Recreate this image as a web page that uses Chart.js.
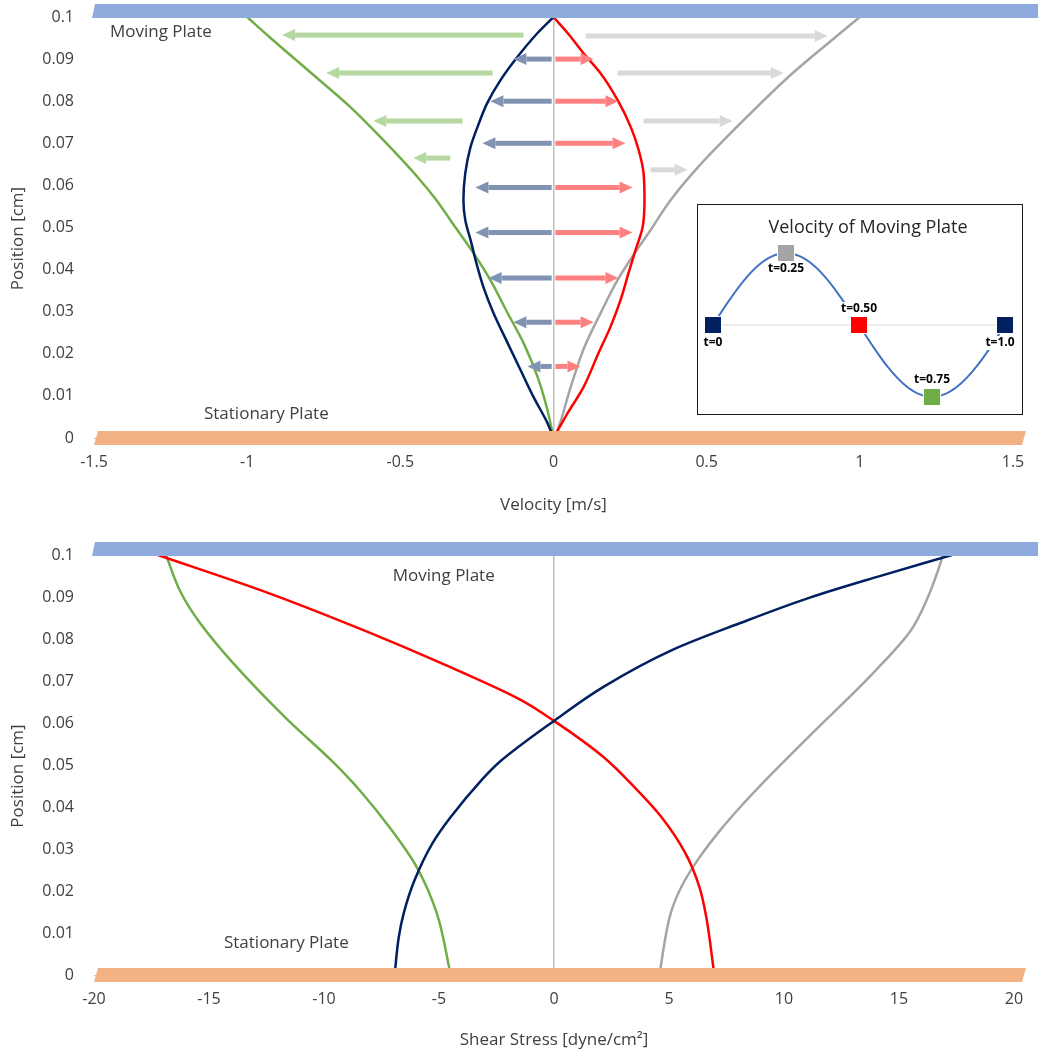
<!DOCTYPE html>
<html>
<head>
<meta charset="utf-8">
<title>Oscillating plate flow</title>
<script src="https://cdn.jsdelivr.net/npm/chart.js@4.4.1/dist/chart.umd.min.js"></script>
<style>
  body { margin: 0; background: #fff; }
  #page { position: relative; width: 1038px; height: 1053px; overflow: hidden; }
  #velCanvas { position: absolute; left: 0; top: 0; }
  #stressCanvas { position: absolute; left: 0; top: 525px; }
  #insetBox { position: absolute; left: 697px; top: 204px; width: 324px; height: 209px; border: 1px solid #1a1a1a; background: #fff; }
</style>
</head>
<body>
<div id="page">
  <canvas id="velCanvas" width="1038" height="525"></canvas>
  <canvas id="stressCanvas" width="1038" height="528"></canvas>
  <div id="insetBox"><canvas id="insetCanvas" width="324" height="209"></canvas></div>
</div>
<script>
const el = (id) => document.getElementById(id);
const FONT = "'Open Sans', 'Noto Sans', sans-serif";
const TXT = '#404040';

// colours per time step
const C_T0 = '#002060', C_T25 = '#a5a5a5', C_T50 = '#ff0000', C_T75 = '#70ad47';

// ---- velocity profiles (position cm -> velocity m/s)
const VEL_POS_T0 = [0.1, 0.0962, 0.0905, 0.0850, 0.0796, 0.0739, 0.0691, 0.0629, 0.0565, 0.0518, 0.0463, 0.0416, 0.0359, 0.0297, 0.0226, 0.0162, 0.0097, 0.0036, 0];
const VEL_T0     = [0, -0.052, -0.118, -0.173, -0.216, -0.248, -0.271, -0.288, -0.294, -0.288, -0.268, -0.252, -0.229, -0.196, -0.150, -0.108, -0.065, -0.020, 0];
const VEL_POS_T25 = [0.1, 0.0955, 0.0867, 0.0753, 0.0637, 0.0565, 0.0494, 0.0439, 0.0375, 0.0297, 0.0216, 0.0121, 0.0019, 0];
const VEL_T25     = [1.0, 0.925, 0.781, 0.618, 0.464, 0.382, 0.317, 0.265, 0.209, 0.154, 0.101, 0.056, 0.013, 0];
const VEL_POS_T50 = [0.1, 0.0962, 0.0914, 0.0867, 0.0803, 0.0739, 0.0684, 0.0629, 0.0565, 0.0501, 0.0447, 0.0392, 0.0328, 0.0264, 0.0202, 0.0121, 0.0059, 0];
const VEL_T50     = [0, 0.046, 0.098, 0.153, 0.209, 0.252, 0.278, 0.294, 0.297, 0.291, 0.268, 0.245, 0.219, 0.186, 0.147, 0.098, 0.046, 0];
const VEL_POS_T75 = [0.1, 0.0955, 0.0867, 0.0786, 0.0708, 0.0620, 0.0565, 0.0518, 0.0439, 0.0375, 0.0297, 0.0226, 0.0145, 0.0067, 0];
const VEL_T75     = [-1.0, -0.931, -0.791, -0.663, -0.556, -0.444, -0.382, -0.337, -0.261, -0.206, -0.150, -0.098, -0.052, -0.020, 0];

// velocity arrows: navy (t=0) and red (t=0.5) from the centre line
const ARROW_POS_MID  = [0.09, 0.08, 0.07, 0.0595, 0.0488, 0.038, 0.0275, 0.017];
const ARROW_TIP_T0   = [-0.131, -0.206, -0.232, -0.255, -0.255, -0.212, -0.131, -0.085];
const ARROW_TIP_T50  = [0.131, 0.212, 0.235, 0.258, 0.258, 0.212, 0.131, 0.088];
// grey (t=0.25) and green (t=0.75) arrows
const ARROW_POS_T25   = [0.0955, 0.0867, 0.0753, 0.0637];
const ARROW_START_T25 = [0.105, 0.209, 0.294, 0.317];
const ARROW_TIP_T25   = [0.895, 0.752, 0.585, 0.438];
const ARROW_POS_T75   = [0.0957, 0.0867, 0.0753, 0.0665];
const ARROW_START_T75 = [-0.098, -0.199, -0.297, -0.337];
const ARROW_TIP_T75   = [-0.886, -0.742, -0.588, -0.458];

// ---- shear stress profiles (position cm -> dyne/cm2)
const STRESS_POS_T0 = [0, 0.0090, 0.0148, 0.0226, 0.0314, 0.0376, 0.0464, 0.0507, 0.0605, 0.0686, 0.0774, 0.0838, 0.0898, 0.0948, 0.1];
const STRESS_T0     = [-6.93, -6.75, -6.53, -6.06, -5.28, -4.49, -3.15, -2.37, 0, 2.15, 5.15, 8.10, 11.09, 14.05, 17.30];
const STRESS_POS_T25 = [0, 0.0148, 0.0210, 0.0274, 0.0345, 0.0400, 0.0464, 0.0567, 0.0726, 0.0821, 0.0900, 0.0964, 0.1];
const STRESS_T25     = [4.58, 5.08, 5.54, 6.25, 7.23, 8.10, 9.20, 11.07, 14.0, 15.52, 16.26, 16.70, 16.91];
const STRESS_POS_T50 = [0.1, 0.0910, 0.0817, 0.0743, 0.0655, 0.0605, 0.0519, 0.0440, 0.0376, 0.0290, 0.0210, 0.0138, 0];
const STRESS_T50     = [-17.22, -12.44, -8.10, -4.93, -1.45, 0, 2.15, 3.62, 4.67, 5.71, 6.32, 6.62, 6.97];
const STRESS_POS_T75 = [0.1, 0.0910, 0.0838, 0.0743, 0.0614, 0.0505, 0.0440, 0.0345, 0.0257, 0.0148, 0];
const STRESS_T75     = [-16.87, -16.22, -15.39, -13.96, -11.70, -9.57, -8.45, -7.06, -5.97, -5.10, -4.49];

// ---- plate velocity over one period (inset)
const PLATE_T = [0, 0.05, 0.1, 0.15, 0.2, 0.25, 0.3, 0.35, 0.4, 0.45, 0.5, 0.55, 0.6, 0.65, 0.7, 0.75, 0.8, 0.85, 0.9, 0.95, 1];
const PLATE_V = [0, 0.31, 0.59, 0.81, 0.95, 1, 0.95, 0.81, 0.59, 0.31, 0, -0.31, -0.59, -0.81, -0.95, -1, -0.95, -0.81, -0.59, -0.31, 0];
const MARK_T = [0, 0.25, 0.5, 0.75, 1];
const MARK_V = [0, 1, 0, -1, 0];
const MARK_LABELS = ['t=0', 't=0.25', 't=0.50', 't=0.75', 't=1.0'];
const MARK_COLORS = [C_T0, C_T25, C_T50, C_T75, C_T0];

// ---- ticks
const POS_TICKS = [0, 0.01, 0.02, 0.03, 0.04, 0.05, 0.06, 0.07, 0.08, 0.09, 0.1];
const VEL_TICKS = [-1.5, -1, -0.5, 0, 0.5, 1, 1.5];
const STRESS_TICKS = [-20, -15, -10, -5, 0, 5, 10, 15, 20];

const pts = (xs, ys) => xs.map((x, i) => ({ x, y: ys[i] }));
// profiles are functions of position, so interpolate along y
const curve = (xs, ys, color) => ({
  data: pts(xs, ys), borderColor: color, borderWidth: 2.5, pointRadius: 0,
  indexAxis: 'y', cubicInterpolationMode: 'monotone', fill: false
});
const arrows = (ys, x0s, x1s, color) => ys.map((y, i) => ({ data: [{ x: x0s[i], y }, { x: x1s[i], y }], showLine: false, pointRadius: 0, arrow: color }));

// arrows, plates, plate captions and the rotated position title
function decor(cfg) {
  return {
    id: 'decor',
    afterDatasetsDraw(chart) {
      const { ctx, chartArea, scales } = chart;
      ctx.save();
      chart.data.datasets.forEach((ds, i) => {
        if (!ds.arrow) return;
        const [a, b] = chart.getDatasetMeta(i).data;
        const dir = Math.sign(b.x - a.x), head = 13, half = 6, w = 5;
        const neck = b.x - dir * head;
        ctx.fillStyle = ds.arrow;
        ctx.fillRect(Math.min(a.x, neck), a.y - w / 2, Math.abs(neck - a.x), w);
        ctx.beginPath();
        ctx.moveTo(b.x, b.y);
        ctx.lineTo(neck, b.y - half);
        ctx.lineTo(neck, b.y + half);
        ctx.closePath();
        ctx.fill();
      });
      cfg.plates.forEach(p => {
        const y = scales.y.getPixelForValue(p.value);
        const l = chartArea.left + p.left;
        ctx.fillStyle = p.color;
        ctx.beginPath();
        ctx.moveTo(l, y + p.down);
        ctx.lineTo(l + p.slant, y - p.up);
        ctx.lineTo(p.right + p.slant, y - p.up);
        ctx.lineTo(p.right, y + p.down);
        ctx.closePath();
        ctx.fill();
      });
      ctx.font = `17px ${FONT}`;
      ctx.fillStyle = TXT;
      ctx.textAlign = 'left';
      ctx.textBaseline = 'middle';
      cfg.notes.forEach(n => ctx.fillText(n.text, scales.x.getPixelForValue(n.x), scales.y.getPixelForValue(n.y)));

      // y title sits a little below the middle of the plot
      ctx.translate(18, (chartArea.top + chartArea.bottom) / 2 + 11);
      ctx.rotate(-Math.PI / 2);
      ctx.textAlign = 'center';
      ctx.fillText('Position [cm]', 0, 0);
      ctx.restore();
    }
  };
}

function scalesFor(xTicks, xMin, xMax, xTitle, xHeight, titlePad) {
  return {
    x: {
      type: 'linear', min: xMin, max: xMax,
      afterBuildTicks: s => { s.ticks = xTicks.map(v => ({ value: v })); },
      afterFit: s => { s.height = xHeight; s.paddingLeft = 0; s.paddingRight = 0; },
      ticks: { padding: 15, color: TXT, font: { family: FONT, size: 16 }, callback: v => String(v) },
      grid: { drawTicks: false, lineWidth: 1.5, color: c => (c.tick && c.tick.value === 0) ? '#bfbfbf' : 'rgba(0,0,0,0)' },
      border: { display: true, color: '#bfbfbf' },
      title: { display: true, text: xTitle, color: TXT, font: { family: FONT, size: 17 }, padding: { top: 0, bottom: titlePad } }
    },
    y: {
      type: 'linear', min: 0, max: 0.1,
      afterBuildTicks: s => { s.ticks = POS_TICKS.map(v => ({ value: v })); },
      afterFit: s => { s.width = 94; s.paddingTop = 0; s.paddingBottom = 0; },
      ticks: { padding: 20, color: TXT, font: { family: FONT, size: 16 }, callback: v => String(+v.toFixed(2)) },
      grid: { display: false, drawTicks: false },
      border: { display: false },
      title: { display: false }
    }
  };
}

const baseOpts = {
  responsive: false, animation: false, events: [],
  plugins: { legend: { display: false }, tooltip: { enabled: false } }
};

// velocity chart
new Chart(el('velCanvas'), {
  type: 'scatter',
  data: {
    datasets: [
      curve(VEL_T0, VEL_POS_T0, C_T0),
      curve(VEL_T50, VEL_POS_T50, C_T50),
      curve(VEL_T25, VEL_POS_T25, C_T25),
      curve(VEL_T75, VEL_POS_T75, C_T75),
      ...arrows(ARROW_POS_MID, ARROW_POS_MID.map(() => -0.006), ARROW_TIP_T0, '#8093b3'),
      ...arrows(ARROW_POS_MID, ARROW_POS_MID.map(() => 0.006), ARROW_TIP_T50, '#ff8080'),
      ...arrows(ARROW_POS_T25, ARROW_START_T25, ARROW_TIP_T25, '#d9d9d9'),
      ...arrows(ARROW_POS_T75, ARROW_START_T75, ARROW_TIP_T75, '#b5d7a0')
    ].map(d => ({ showLine: true, ...d }))
  },
  options: {
    ...baseOpts,
    layout: { padding: { left: 0, top: 17, right: 25, bottom: 0 } },
    scales: scalesFor(VEL_TICKS, -1.5, 1.5, 'Velocity [m/s]', 87, 10)
  },
  plugins: [decor({
    plates: [
      { value: 0.1, color: '#8faadc', up: 13, down: 1, left: -2, slant: 3, right: 1045 },
      { value: 0, color: '#f4b183', up: 7, down: 7, left: 0, slant: 4, right: 1022 }
    ],
    notes: [
      { text: 'Moving Plate', x: -1.448, y: 0.0964 },
      { text: 'Stationary Plate', x: -1.141, y: 0.0057 }
    ]
  })]
});

// shear stress chart
new Chart(el('stressCanvas'), {
  type: 'scatter',
  data: {
    datasets: [
      curve(STRESS_T0, STRESS_POS_T0, C_T0),
      curve(STRESS_T50, STRESS_POS_T50, C_T50),
      curve(STRESS_T25, STRESS_POS_T25, C_T25),
      curve(STRESS_T75, STRESS_POS_T75, C_T75)
    ].map(d => ({ showLine: true, ...d }))
  },
  options: {
    ...baseOpts,
    layout: { padding: { left: 0, top: 30, right: 24, bottom: 0 } },
    scales: scalesFor(STRESS_TICKS, -20, 20, 'Shear Stress [dyne/cm²]', 78, 3)
  },
  plugins: [decor({
    plates: [
      { value: 0.1, color: '#8faadc', up: 13, down: 1, left: -2, slant: 3, right: 1045 },
      { value: 0, color: '#f4b183', up: 7, down: 7, left: 0, slant: 4, right: 1022 }
    ],
    notes: [
      { text: 'Moving Plate', x: -7.01, y: 0.095 },
      { text: 'Stationary Plate', x: -14.35, y: 0.0076 }
    ]
  })]
});

// inset: plate velocity through one period, t labels on white patches
const LABEL_DX = [0, 0, 0, 0, -5];
const LABEL_DY = [18, 16, -16, -17, 18];
const insetLabels = {
  id: 'insetLabels',
  afterDatasetsDraw(chart) {
    const { ctx, chartArea } = chart;
    const marks = chart.getDatasetMeta(0).data;
    ctx.save();
    ctx.textAlign = 'center';
    ctx.textBaseline = 'middle';
    ctx.font = `18px ${FONT}`;
    ctx.fillStyle = '#262626';
    ctx.fillText('Velocity of Moving Plate', (chartArea.left + chartArea.right) / 2 + 9, 23);
    ctx.font = `bold 12px ${FONT}`;
    marks.forEach((p, i) => {
      const x = p.x + LABEL_DX[i], y = p.y + LABEL_DY[i];
      const w = ctx.measureText(MARK_LABELS[i]).width + 4;
      ctx.fillStyle = '#fff';
      ctx.fillRect(x - w / 2, y - 7, w, 14);
      ctx.fillStyle = '#000';
      ctx.fillText(MARK_LABELS[i], x, y);
    });
    ctx.restore();
  }
};

new Chart(el('insetCanvas'), {
  type: 'scatter',
  data: {
    datasets: [
      { data: pts(MARK_T, MARK_V), pointStyle: 'rect', pointRadius: 12, backgroundColor: MARK_COLORS, borderColor: '#fff', borderWidth: 1, showLine: false, clip: false },
      { data: pts(PLATE_T, PLATE_V), showLine: true, borderColor: '#4472c4', borderWidth: 2, pointRadius: 0, tension: 0.3, clip: false },
      { data: [{ x: 0, y: 0 }, { x: 1, y: 0 }], showLine: true, borderColor: '#d9d9d9', borderWidth: 1, pointRadius: 0 }
    ]
  },
  options: {
    ...baseOpts,
    layout: { padding: { left: 15, top: 48, right: 17, bottom: 17 } },
    scales: {
      x: { type: 'linear', min: 0, max: 1, display: false },
      y: { type: 'linear', min: -1, max: 1, display: false }
    }
  },
  plugins: [insetLabels]
});
</script>
</body>
</html>
